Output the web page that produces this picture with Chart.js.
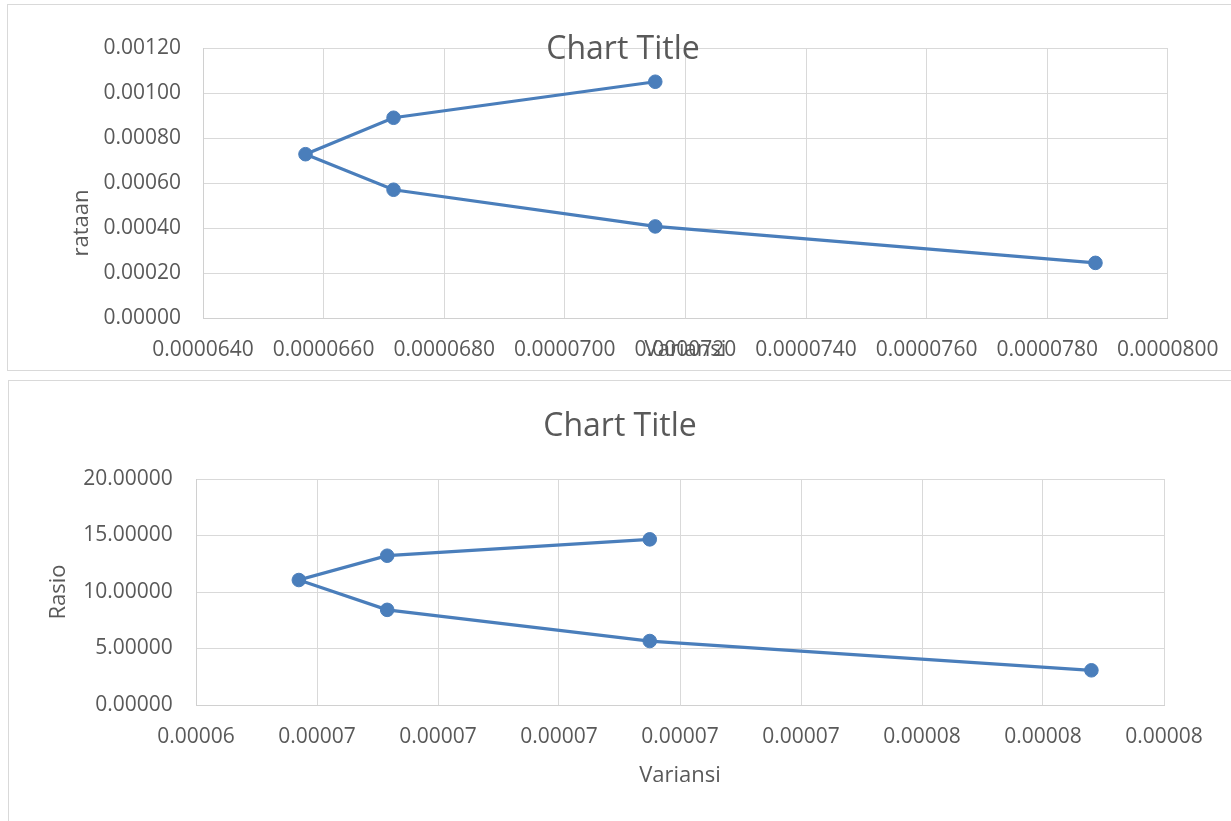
<!DOCTYPE html>
<html>
<head>
<meta charset="utf-8">
<script src="https://cdn.jsdelivr.net/npm/chart.js@4/dist/chart.umd.min.js"></script>
<style>
  html, body { margin: 0; padding: 0; background: #fff; overflow: hidden; width: 1231px; height: 821px; }
  .frame { position: absolute; border: 1px solid #d9d9d9; background: #fff; }
  #f1 { left: 7px; top: 4px; width: 1240px; height: 365px; }
  #f2 { left: 8px; top: 380px; width: 1240px; height: 460px; }
  canvas { display: block; }
</style>
</head>
<body>
<div class="frame" id="f1"><canvas id="c1" width="1230" height="365"></canvas></div>
<div class="frame" id="f2"><canvas id="c2" width="1222" height="445"></canvas></div>
<script>
// Portfolio points: variance, mean return and mean/variance ratio
const variansi = [0.0000715, 0.00006716, 0.0000657, 0.00006716, 0.0000715, 0.0000788];
const rataan   = [0.00105, 0.00089, 0.000728, 0.00057, 0.000407, 0.000245];
const rasio    = [14.66, 13.21, 11.06, 8.42, 5.66, 3.07];

// Axis ranges
const xRange      = { min: 0.000064, max: 0.00008, step: 0.000002 };
const rataanRange = { min: 0, max: 0.0012, step: 0.0002 };
const rasioRange  = { min: 0, max: 20, step: 5 };

const FONT = "'Open Sans', 'Liberation Sans', sans-serif";
const TEXT = '#595959';
const GRID = '#d9d9d9';
const LINE = '#4A7EBB';
const NBSP = '\u00a0';

function makeChart(id, yValues, o) {
  return new Chart(document.getElementById(id), {
    type: 'scatter',
    data: {
      datasets: [{
        data: variansi.map((v, i) => ({ x: v, y: yValues[i] })),
        showLine: true,
        tension: 0,
        borderColor: LINE,
        borderWidth: 3.25,
        pointRadius: 6.8,
        pointBackgroundColor: LINE,
        pointBorderColor: LINE,
        pointBorderWidth: 1
      }]
    },
    options: {
      responsive: false,
      animation: false,
      layout: { padding: 0 },
      plugins: {
        legend: { display: false },
        tooltip: { enabled: false },
        title: {
          display: true,
          text: 'Chart Title',
          color: TEXT,
          font: { family: FONT, size: 32, weight: 'normal' },
          padding: o.titlePad
        }
      },
      scales: {
        x: {
          type: 'linear',
          position: 'bottom',
          min: xRange.min, max: xRange.max,
          ticks: {
            stepSize: xRange.step,
            autoSkip: false, maxRotation: 0, minRotation: 0,
            color: TEXT, font: { family: FONT, size: 21 },
            padding: o.xTickPad,
            callback: v => Number(v).toFixed(o.xDigits)
          },
          grid: { color: GRID, lineWidth: 1, drawTicks: false },
          border: { color: '#d0d0d0', width: 1 },
          title: {
            display: true, text: 'Variansi', color: TEXT,
            font: { family: FONT, size: 22 },
            padding: { top: 0, bottom: o.xTitlePad }
          },
          afterFit: s => { s.height = o.xHeight; }
        },
        y: {
          type: 'linear',
          position: 'left',
          min: o.yRange.min, max: o.yRange.max,
          ticks: {
            stepSize: o.yRange.step,
            color: TEXT, font: { family: FONT, size: 21 },
            padding: o.yTickPad,
            callback: v => Number(v).toFixed(5)
          },
          grid: { color: GRID, lineWidth: 1, drawTicks: false },
          border: { color: '#d0d0d0', width: 1 },
          title: {
            display: true, text: o.yTitle, color: TEXT,
            font: { family: FONT, size: 22 },
            padding: { top: o.yTitlePad, bottom: 0 }
          },
          afterFit: s => { s.width = o.yWidth; }
        },
        // empty right-hand spacer keeps the title centred on the whole chart
        spacer: {
          type: 'linear',
          position: 'right',
          display: true,
          ticks: { display: false },
          grid: { display: false },
          border: { display: false },
          afterFit: s => { s.width = o.rightWidth; }
        }
      }
    }
  });
}

makeChart('c1', rataan, {
  titlePad: { top: 26, bottom: -21.4 },
  xDigits: 7, xTickPad: 19.4, xTitlePad: 6.8, xHeight: 52,
  yRange: rataanRange, yTickPad: 22,
  // trailing spaces push the rotated label down along the axis
  yTitle: 'rataan' + NBSP.repeat(14), yTitlePad: 60.8, yWidth: 195,
  rightWidth: 70
});

makeChart('c2', rasio, {
  titlePad: { top: 26.3, bottom: 33.3 },
  xDigits: 5, xTickPad: 19.1, xTitlePad: 36.8, xHeight: 121,
  yRange: rasioRange, yTickPad: 23.3, yTitle: 'Rasio', yTitlePad: 36.8, yWidth: 187,
  rightWidth: 67
});
</script>
</body>
</html>
